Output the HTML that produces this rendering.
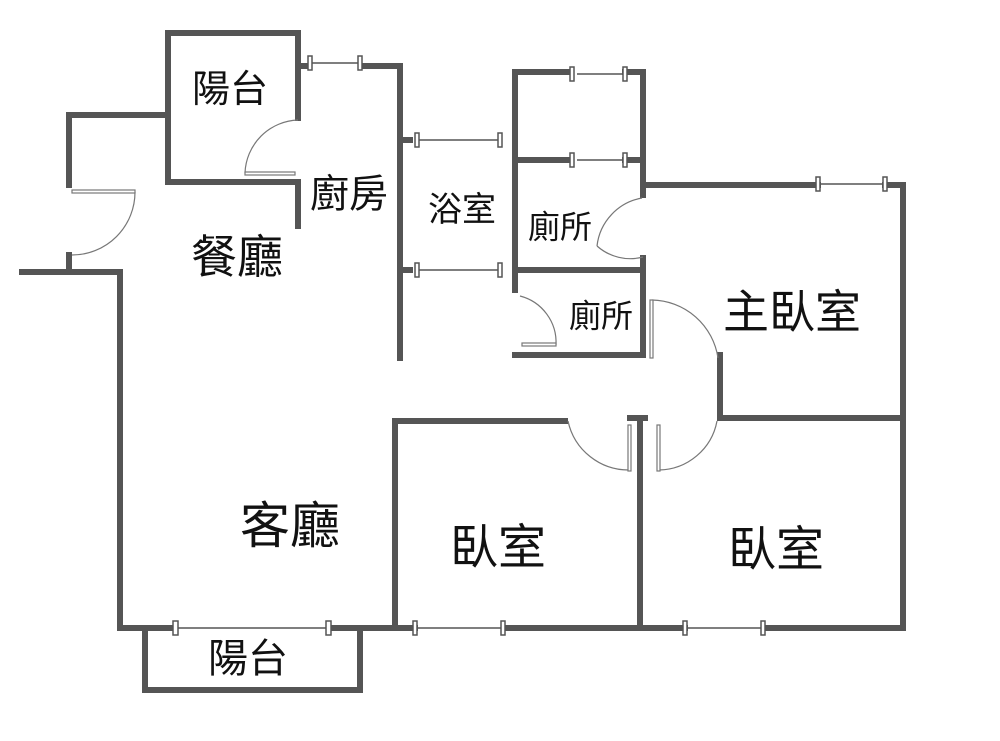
<!DOCTYPE html>
<html><head><meta charset="utf-8"><style>
html,body{margin:0;padding:0;background:#fff;}
svg{display:block;}
text{font-family:"Liberation Sans","Noto Sans CJK TC",sans-serif;fill:#111;text-anchor:middle;dominant-baseline:central;}
</style></head><body>
<svg width="1000" height="741" viewBox="0 0 1000 741">
<g stroke="#555" stroke-width="6" fill="none" stroke-linecap="square">
<polyline points="298,118 298,33 168,33 168,182 298,182 298,226"/>
<polyline points="168,115 69,115 69,185"/>
<polyline points="69,255 69,272"/>
<polyline points="22,272 120,272 120,628"/>
<polyline points="298,66 308,66"/>
<polyline points="362,66 400,66 400,358"/>
<polyline points="400,140 410,140"/>
<polyline points="400,270 410,270"/>
<polyline points="515,290 515,72 570,72"/>
<polyline points="625,72 643,72 643,195"/>
<polyline points="515,160 570,160"/>
<polyline points="625,160 643,160"/>
<polyline points="643,185 818,185"/>
<polyline points="885,185 903,185 903,628"/>
<polyline points="643,258 643,355 515,355"/>
<polyline points="515,270 643,270"/>
<polyline points="720,355 720,418 903,418"/>
<polyline points="565,421 395,421 395,628"/>
<polyline points="640,418 640,628"/>
<polyline points="630,418 645,418"/>
<polyline points="120,628 175,628"/>
<polyline points="330,628 415,628"/>
<polyline points="505,628 685,628"/>
<polyline points="765,628 903,628"/>
<polyline points="145,628 145,690 360,690 360,628"/>
</g>
<g stroke="#555" stroke-width="1.5" fill="#fff">
<line x1="310" y1="63" x2="360" y2="63"/>
<line x1="417" y1="140" x2="500" y2="140"/>
<line x1="417" y1="270" x2="500" y2="270"/>
<line x1="577" y1="74" x2="632" y2="74"/>
<line x1="577" y1="160" x2="632" y2="160"/>
<line x1="820" y1="184" x2="885" y2="184"/>
<line x1="178" y1="628" x2="328" y2="628"/>
<line x1="418" y1="628" x2="503" y2="628"/>
<line x1="687" y1="628" x2="763" y2="628"/>
<rect x="308" y="56" width="4" height="14"/><rect x="358" y="56" width="4" height="14"/>
<rect x="415" y="133" width="4" height="14"/><rect x="498" y="133" width="4" height="14"/>
<rect x="415" y="263" width="4" height="14"/><rect x="498" y="263" width="4" height="14"/>
<rect x="570" y="67" width="4" height="14"/><rect x="623" y="67" width="4" height="14"/>
<rect x="570" y="153" width="4" height="14"/><rect x="623" y="153" width="4" height="14"/>
<rect x="816" y="177" width="4" height="14"/><rect x="883" y="177" width="4" height="14"/>
<rect x="173" y="621" width="5" height="14"/><rect x="326" y="621" width="5" height="14"/>
<rect x="413" y="621" width="4" height="14"/><rect x="501" y="621" width="4" height="14"/>
<rect x="683" y="621" width="4" height="14"/><rect x="761" y="621" width="4" height="14"/>
</g>
<g stroke="#777" stroke-width="1.2" fill="none">
<path d="M298,120 A55,55 0 0 0 245,173"/>
<rect x="245" y="172" width="50" height="3" fill="#fff"/>
<path d="M135,192 A63,63 0 0 1 72,255"/>
<rect x="72" y="190" width="63" height="3" fill="#fff"/>
<path d="M642,198 A55,55 0 0 0 597,246 "/>
<path d="M597,246 A50,50 0 0 0 643,257"/>
<path d="M520,296 A48,48 0 0 1 556,345"/>
<rect x="522" y="343" width="34" height="3" fill="#fff"/>
<path d="M652,300 A68,68 0 0 1 718,358"/>
<rect x="650" y="300" width="3" height="58" fill="#fff"/>
<path d="M568,421 A62,62 0 0 0 630,470"/>
<rect x="628" y="425" width="3" height="46" fill="#fff"/>
<path d="M717,421 A60,60 0 0 1 659,470"/>
<rect x="657" y="425" width="3" height="46" fill="#fff"/>
</g>
<text x="230" y="90" font-size="38">陽台</text>
<text x="349" y="195" font-size="39">廚房</text>
<text x="237" y="257" font-size="46">餐廳</text>
<text x="462" y="210" font-size="34">浴室</text>
<text x="560" y="227" font-size="32">廁所</text>
<text x="601" y="316" font-size="32">廁所</text>
<text x="792" y="312" font-size="46">主臥室</text>
<text x="290" y="526" font-size="50">客廳</text>
<text x="498" y="548" font-size="48">臥室</text>
<text x="776" y="550" font-size="48">臥室</text>
<text x="248" y="659" font-size="40">陽台</text>
</svg>
</body></html>
